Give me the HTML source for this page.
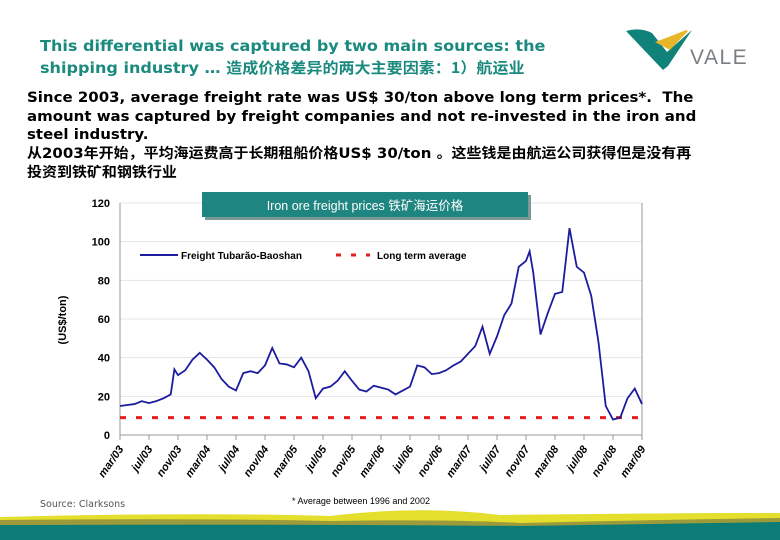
<!DOCTYPE html>
<html><head><meta charset="utf-8">
<style>
body{margin:0;width:780px;height:540px;overflow:hidden;background:#fff;position:relative;font-family:"DejaVu Sans","Liberation Sans","Noto Sans CJK SC",sans-serif}
.t{position:absolute;white-space:nowrap}
#title{left:40px;top:36px;color:#1a8a7e;font-weight:bold;font-size:15px;line-height:21px;transform:scaleX(1.07);transform-origin:left}
#body{left:27px;top:89px;color:#000;font-weight:bold;font-size:14px;line-height:18.5px;transform:scaleX(1.07);transform-origin:left}
</style></head><body>
<div class="t" id="title">This differential was captured by two main sources: the<br>shipping industry … <span style="font-family:'Noto Sans CJK SC',sans-serif">造成价格差异的两大主要因素：1）航运业</span></div>
<div class="t" id="body">Since 2003, average freight rate was US$ 30/ton above long term prices*.&nbsp; The<br>amount was captured by freight companies and not re-invested in the iron and<br>steel industry.<br><span style="font-family:'DejaVu Sans','Noto Sans CJK SC',sans-serif">从2003年开始，平均海运费高于长期租船价格US$ 30/ton 。这些钱是由航运公司获得但是没有再</span><br><span style="font-family:'Noto Sans CJK SC',sans-serif">投资到铁矿和钢铁行业</span></div>
<svg width="780" height="540" style="position:absolute;left:0;top:0" id="chart">
<g>
<path d="M626 31 Q640 27 652 33 L667 52 L692 30 L668 66 L663 70 Z" fill="#11827a"/>
<path d="M655 42 Q672 36 686 30 L688 31 L670 50 Z" fill="#e8b628"/>
<text x="690" y="64" font-family="Liberation Sans" font-size="21" fill="#7a7f84" letter-spacing="1.5">VALE</text>
</g>
<g>
<path d="M0 517 Q200 512 330 516 Q420 505 500 515 Q650 513 780 513 L780 540 L0 540Z" fill="#e4de2c"/>
<path d="M0 520 Q200 518 330 521 Q450 519 520 523 Q650 520 780 518 L780 540 L0 540Z" fill="#9c9a3a"/>
<path d="M0 525 Q300 524 520 526 Q650 524 780 522 L780 540 L0 540Z" fill="#0b7d76"/>
</g>
<text x="40" y="507" font-size="9.5" fill="#555" font-family="DejaVu Sans">Source: Clarksons</text>
<text x="292" y="504" font-size="9" fill="#000" font-family="Liberation Sans">* Average between 1996 and 2002</text>
<g id="plot"></g>
</svg>
<script>
const months=[0,1,2,3,4,5,6,7,7.5,8,9,10,11,12,13,14,15,16,17,18,19,20,21,22,23,24,25,26,27,28,29,30,31,32,33,34,35,36,37,38,39,40,41,42,43,44,45,46,47,48,49,50,51,52,53,54,55,56,56.5,57,58,59,60,61,62,63,64,65,66,67,68,69,70,71,72];
const freight=[15,15.5,16,17.5,16.5,17.5,19,21,34,31,33.5,39,42.5,39,35,29,25,23,32,33,32,36,45,37,36.5,35,40,33,19,24,25,28,33,28,23.5,22.5,25.5,24.5,23.5,21,23,25,36,35,31.5,32,33.5,36,38,42,46,56,42,51,62,68,87,90,95,84,52,63,73,74,107,87,84,72,48,15,8,9,19,24,16];
const longTermAvg=9;
const yTicks=[0,20,40,60,80,100,120];
const xLabels=["mar/03","jul/03","nov/03","mar/04","jul/04","nov/04","mar/05","jul/05","nov/05","mar/06","jul/06","nov/06","mar/07","jul/07","nov/07","mar/08","jul/08","nov/08","mar/09"];
const NS="http://www.w3.org/2000/svg";
const X0=120,X1=642,Y0=435,Y1=203;
const xs=m=>X0+(X1-X0)*m/72;
const ys=v=>Y0-(Y0-Y1)*v/120;
const g=document.getElementById('plot');
function mk(t,a){const e=document.createElementNS(NS,t);for(const k in a)e.setAttribute(k,a[k]);g.appendChild(e);return e;}
yTicks.forEach(v=>{
 if(v>0){const l=mk('line',{x1:X0,x2:X1,y1:ys(v),y2:ys(v),stroke:'#e4e4e4'});
 
 }
 const t=mk('text',{x:X0-10,y:ys(v)+4,'text-anchor':'end','font-size':'11','font-weight':'bold','font-family':'Liberation Sans',fill:'#000'});
 t.textContent=v;
 
 
});
const ax=mk('path',{d:`M${X0} ${Y1} V${Y0} H${X1} V${Y1}`,fill:'none',stroke:'#999'});


xLabels.forEach((s,i)=>{
 const x=xs(i*4);
 const tk=mk('line',{x1:x,x2:x,y1:Y0,y2:Y0+5,stroke:'#999'});
 
 
 const t=mk('text',{x:x+4,y:Y0+14,'text-anchor':'end','font-size':'11','font-weight':'bold','font-style':'italic','font-family':'Liberation Sans',transform:`rotate(-55 ${x+4} ${Y0+14})`});
 t.textContent=s;
 
 
});
const yt=mk('text',{x:66,y:320,'text-anchor':'middle','font-size':'11','font-weight':'bold','font-family':'Liberation Sans',transform:'rotate(-90 66 320)'});
yt.textContent='(US$/ton)';


const avg=mk('line',{x1:X0,x2:X1,y1:ys(longTermAvg),y2:ys(longTermAvg),stroke:'#e02020','stroke-width':3,'stroke-dasharray':'6 10'});


const line=mk('polyline',{points:months.map((m,i)=>xs(m)+','+ys(freight[i])).join(' '),fill:'none',stroke:'#1c1ca0','stroke-width':1.8});


const l1=mk('line',{x1:140,x2:178,y1:255,y2:255,stroke:'#1c1ca0','stroke-width':2});


const lt1=mk('text',{x:181,y:259,'font-size':'10','font-weight':'bold','font-family':'Liberation Sans'});
lt1.textContent='Freight Tubarão-Baoshan';


const l2=mk('line',{x1:336,x2:370,y1:255,y2:255,stroke:'#e02020','stroke-width':3,'stroke-dasharray':'5 10'});


const lt2=mk('text',{x:377,y:259,'font-size':'10','font-weight':'bold','font-family':'Liberation Sans'});
lt2.textContent='Long term average';


const sh=mk('rect',{x:205,y:195,width:326,height:25,fill:'#7a9a98'});


const bx=mk('rect',{x:202,y:192,width:326,height:25,fill:'#1f8580'});


const ct=mk('text',{x:365,y:210,'text-anchor':'middle','font-size':'12.5',fill:'#fff','font-family':'Liberation Sans,Noto Sans CJK SC,sans-serif'});
ct.textContent='Iron ore freight prices 铁矿海运价格';


</script>
</body></html>
